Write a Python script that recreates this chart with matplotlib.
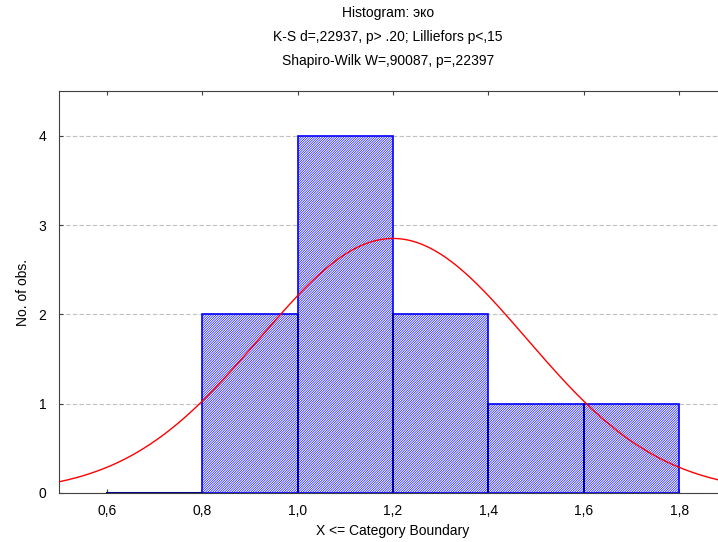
import numpy as np
import matplotlib
matplotlib.use('Agg')
import matplotlib.pyplot as plt
from matplotlib.ticker import FuncFormatter

# histogram of 'эко' (counts per category, upper boundaries)
bin_edges = [0.6, 0.8, 1.0, 1.2, 1.4, 1.6, 1.8]
counts = [0, 2, 4, 2, 1, 1]
# fitted normal curve parameters
n_obs = 10
mu = 1.2
sigma = 0.28

title_lines = ['Histogram: эко',
               'K-S d=,22937, p> .20; Lilliefors p<,15',
               'Shapiro-Wilk W=,90087, p=,22397']

plt.rcParams['font.family'] = ['Liberation Sans', 'DejaVu Sans']
plt.rcParams['hatch.color'] = '#0000ff'
plt.rcParams['hatch.linewidth'] = 0.45

fig = plt.figure(figsize=(7.18, 5.42), dpi=100)
ax = fig.add_axes([59/718, 49/542, 668/718, 402/542])

widths = np.diff(bin_edges)
ax.bar(bin_edges[:-1], counts, width=widths, align='edge', color='white',
       edgecolor='#0000ff', hatch='/' * 14, linewidth=1.2, zorder=2)
# zero-height bar shows as a line on the baseline
for i, c in enumerate(counts):
    if c == 0:
        ax.plot([bin_edges[i], bin_edges[i + 1]], [0, 0], color='#000080', lw=1.5, zorder=3)
# inner bar edges darker
for i in range(1, len(counts)):
    if counts[i - 1] > 0 and counts[i] > 0:
        ax.plot([bin_edges[i]] * 2, [0, min(counts[i - 1], counts[i])], color='#0000a0', lw=1.2, zorder=3)

xs = np.linspace(0.5, 1.9, 300)
bw = bin_edges[1] - bin_edges[0]
ys = n_obs * bw / (sigma * np.sqrt(2 * np.pi)) * np.exp(-0.5 * ((xs - mu) / sigma) ** 2)
ax.plot(xs, ys, color='#ff0000', lw=1.0, zorder=4)

ax.set_xlim(0.5, 1.9)
ax.set_ylim(0, 4.5)
ax.set_xticks([0.6, 0.8, 1.0, 1.2, 1.4, 1.6, 1.8])
ax.set_yticks([0, 1, 2, 3, 4])
ax.xaxis.set_major_formatter(FuncFormatter(lambda v, p: ('%.1f' % v).replace('.', ',')))
ax.yaxis.grid(True, color='#c0c0c0', linestyle=(0, (4, 2)), linewidth=0.8, zorder=0)
ax.set_axisbelow(True)
ax.tick_params(direction='in', length=3, color='#404040', labelsize=10, top=True)
ax.tick_params(axis='x', pad=8)
ax.tick_params(axis='y', pad=9)
for s in ax.spines.values():
    s.set_color('#404040')

ax.set_xlabel('X <= Category Boundary', fontsize=10, labelpad=4)
ax.set_ylabel('No. of obs.', fontsize=10, labelpad=6)

for i, t in enumerate(title_lines):
    fig.text(388 / 718, 1 - (13 + 24 * i) / 542, t, ha='center', va='center', fontsize=10)

fig.savefig('out.png', dpi=100)
